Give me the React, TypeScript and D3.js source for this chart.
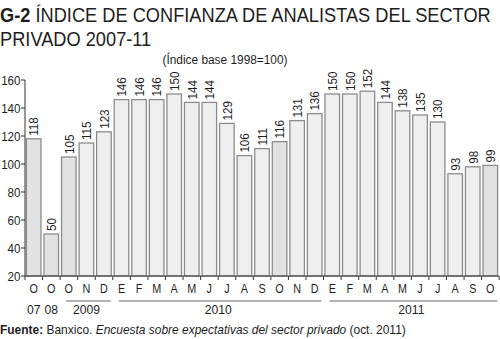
import React from "react";
import * as d3 from "d3";

const months = ["O","O","O","N","D","E","F","M","A","M","J","J","A","S","O","N","D","E","F","M","A","M","J","J","A","S","O"];
const values = [118,50,105,115,123,146,146,146,150,144,144,129,106,111,116,131,136,150,150,152,144,138,135,130,93,98,99];
const yearGroups = [
  { label: "07", start: 0, end: 0, line: false },
  { label: "08", start: 1, end: 1, line: false },
  { label: "2009", start: 2, end: 4, line: true },
  { label: "2010", start: 5, end: 16, line: true },
  { label: "2011", start: 17, end: 26, line: true },
];
const yTicks = [20,40,60,80,100,120,140,160];

const FONT = "'Liberation Sans', Arial, sans-serif";
const SX = 0.86;
const textColor = "#1e1e1e";

function T(props: { x: number; y: number; size: number; anchor?: string; rotate?: number; sx?: number; children: React.ReactNode; weight?: string }) {
  const { x, y, size, anchor = "start", rotate = 0, sx = SX, children, weight } = props;
  return (
    <text transform={`translate(${x},${y})${rotate ? ` rotate(${rotate})` : ""} scale(${sx},1)`}
      fontSize={size} textAnchor={anchor} fill={textColor} fontWeight={weight}>{children}</text>
  );
}

export default function App() {
  const W = 500, H = 339;
  const x = d3.scaleBand<number>().domain(d3.range(values.length)).range([25, 499]).paddingInner(0.17).paddingOuter(0.08);
  const y = d3.scaleLinear().domain([20, 160]).range([276, 80]);
  const step = x.step();
  const bandStart = (i: number) => 25 + step * i;
  return (
    <svg width={W} height={H} style={{ position: "absolute", left: 0, top: 0, background: "#fff" }} fontFamily={FONT}>
      <T x={0} y={22} size={21} sx={0.868}>
        <tspan fontWeight="bold">G-2</tspan>
        <tspan> ÍNDICE DE CONFIANZA DE ANALISTAS DEL SECTOR</tspan>
      </T>
      <T x={0} y={46} size={21} sx={0.868}>PRIVADO 2007-11</T>
      <T x={225} y={64} size={13.5} sx={0.88} anchor="middle">(Índice base 1998=100)</T>

      {/* bars */}
      {values.map((v, i) => (
        <rect key={"b" + i} x={x(i)!} y={y(v)} width={x.bandwidth()} height={y(20) - y(v)}
          fill={months[i] === "O" ? "#e2e2e2" : "#efefef"} stroke="#8c8c8c" strokeWidth={1.3} />
      ))}
      {values.map((v, i) => (
        <T key={"l" + i} x={x(i)! + x.bandwidth() / 2 + 4.8} y={y(v) - 3} rotate={-90} size={13.5}>{v}</T>
      ))}

      {/* y axis */}
      <line x1={25} x2={25} y1={y(160)} y2={y(20)} stroke="#333" strokeWidth={1} />
      {yTicks.map(t => (
        <g key={"y" + t}>
          <line x1={21} x2={25} y1={y(t)} y2={y(t)} stroke="#333" />
          <T x={20.5} y={y(t) + 4.8} size={13.5} anchor="end">{t}</T>
        </g>
      ))}
      {/* x axis */}
      <line x1={25} x2={499} y1={y(20)} y2={y(20)} stroke="#333" />
      {d3.range(values.length + 1).map(i => (
        <line key={"xt" + i} x1={bandStart(i)} x2={bandStart(i)} y1={y(20)} y2={y(20) + 4} stroke="#333" />
      ))}
      {months.map((m, i) => (
        <T key={"m" + i} x={x(i)! + x.bandwidth() / 2} y={293} size={13.5} sx={0.8} anchor="middle">{m}</T>
      ))}
      {yearGroups.map(g => {
        const x0 = bandStart(g.start), x1 = bandStart(g.end + 1);
        return (
          <g key={g.label}>
            {g.line && <line x1={x0 + 6} x2={x1 - 2} y1={301} y2={301} stroke="#9a9a9a" strokeWidth={1.3} />}
            <T x={(x0 + x1) / 2} y={314} size={13.5} sx={0.9} anchor="middle">{g.label}</T>
          </g>
        );
      })}

      <T x={0} y={334} size={13} sx={0.92}>
        <tspan fontWeight="bold">Fuente:</tspan>
        <tspan> Banxico. </tspan>
        <tspan fontStyle="italic">Encuesta sobre expectativas del sector privado</tspan>
        <tspan>  (oct. 2011)</tspan>
      </T>
    </svg>
  );
}
